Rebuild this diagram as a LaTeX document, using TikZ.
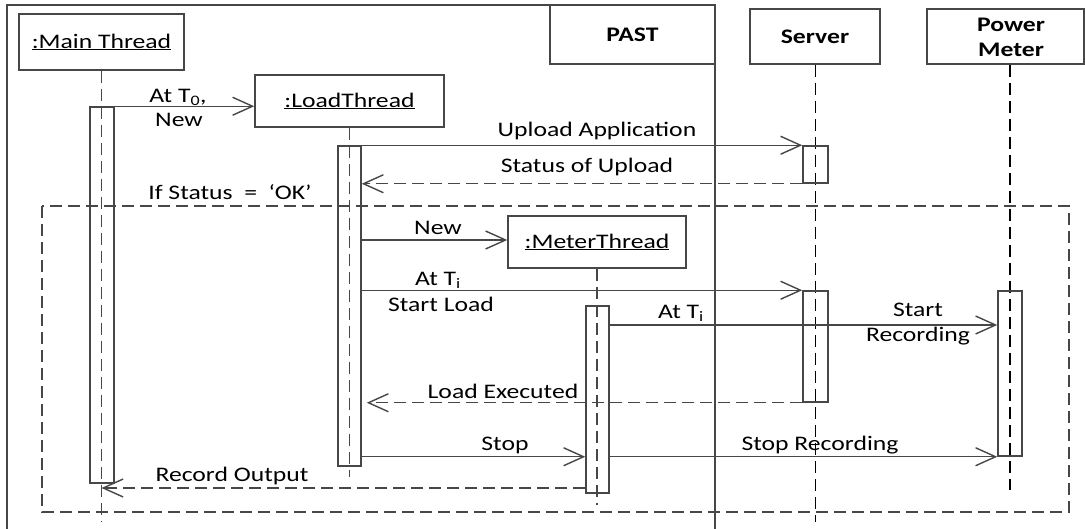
\documentclass[tikz,border=0pt]{standalone}
\usepackage{fontspec}
\setmainfont{Carlito}[FakeStretch=1.24]
\usetikzlibrary{arrows.meta,calc}
\definecolor{ln}{HTML}{474747}
\tikzset{
  every node/.style={font=\fontsize{20.7}{25}\selectfont, text=black},
  obj/.style={draw=ln, line width=1.5pt, inner sep=0pt, align=center},
  act/.style={draw=ln, line width=1.5pt, minimum width=24pt, inner sep=0pt},
  life/.style={line width=1.6pt, dash pattern=on 12pt off 6pt},
  msg/.style={draw=ln, line width=1.4pt, -{Straight Barb[length=20pt,width=18pt]}},
  ret/.style={msg, dash pattern=on 12pt off 6pt},
  frame/.style={draw=ln, line width=1.5pt},
  lbl/.style={inner sep=0pt, align=center},
}
\begin{document}
\begin{tikzpicture}[x=1pt,y=-1pt]
\useasboundingbox (0,0) rectangle (1085,529);

% PAST frame
\draw[frame] (7,529) -- (7,5) -- (715,5) -- (715,529);
\node[obj, minimum width=165pt, minimum height=59pt, font=\fontsize{20.7}{25}\selectfont\bfseries] (past) at (632.5,34.5) {PAST};

% lifeline heads
\node[obj, minimum width=165pt, minimum height=56pt] (main) at (101.5,42) {\underline{:Main Thread}};
\node[obj, minimum width=189pt, minimum height=52pt] (lt) at (349.5,101) {\underline{:LoadThread}};
\node[obj, minimum width=178pt, minimum height=52pt] (mt) at (597,242) {\underline{:MeterThread}};
\node[obj, minimum width=130pt, minimum height=55pt, font=\fontsize{20.7}{25}\selectfont\bfseries] (srv) at (815,36.5) {Server};
\node[obj, minimum width=157pt, minimum height=55pt] (pm) at (1005.5,36.5) {};
\node[lbl, font=\fontsize{20.7}{25}\selectfont\bfseries] (pmlabel) at (1011,37) {Power\\Meter};

% lifeline ends
\coordinate (mainEnd) at (101.5,522);
\coordinate (ltEnd) at (349.5,477);
\coordinate (mtEnd) at (597,505);
\coordinate (srvEnd) at (815.5,522);
\coordinate (pmEnd) at (1010,490);

% lifelines
\draw[life, draw=ln] (main.south) -- (mainEnd);
\draw[life, draw=ln] (lt.south) -- (ltEnd);
\draw[life, draw=ln] (mt.south) -- (mtEnd);
\draw[life, draw=black, line width=1.9pt] (srv.south -| srvEnd) -- (srvEnd);
\draw[life, draw=black, line width=1.9pt] (pm.south -| pmEnd) -- (pmEnd);

% activations
\node[act, minimum height=376pt] (mainAct) at (102,295) {};
\node[act, minimum width=23pt, minimum height=320pt] (ltAct) at (349.5,306) {};
\node[act, minimum width=25pt, minimum height=37pt] (srvAct1) at (815.5,164.5) {};
\node[act, minimum width=25pt, minimum height=111pt] (srvAct2) at (815.5,346.5) {};
\node[act, minimum width=23pt, minimum height=187pt] (mtAct) at (597.5,399.5) {};
\node[act, minimum height=165pt] (pmAct) at (1010,373.5) {};

% guard frame
\draw[frame, dash pattern=on 12pt off 6pt] (42,206) rectangle (1069,512);
\node[lbl] (guard) at (230,192) {If Status~~=~~‘OK’};

% messages
\draw[msg] (mainAct.north east) -- (lt.west |- mainAct.north east);
\node[lbl] (m1a) at (178,97) {At T\textsubscript{0},};
\node[lbl] (m1b) at (179,120) {New};

\draw[msg] (ltAct.north east) -- (srvAct1.north west);
\node[lbl] (m2) at (597,131) {Upload Application};

\draw[ret] (srvAct1.south west) -- (ltAct.east |- srvAct1.south west);
\node[lbl] (m3) at (587,167) {Status of Upload};

\draw[msg] (ltAct.east |- 0,240) -- (mt.west |- 0,240);
\node[lbl] (m4) at (438,228) {New};

\draw[msg] (ltAct.east |- srvAct2.north west) -- (srvAct2.north west);
\node[lbl] (m5a) at (438,280) {At T\textsubscript{i}};
\node[lbl] (m5b) at (441,304) {Start Load};

\draw[msg] (mtAct.east |- 0,325) -- (pmAct.west |- 0,325);
\node[lbl] (m6) at (681,313) {At T\textsubscript{i}};
\node[lbl] (m7) at (918,324) {Start\\Recording};

\draw[ret, shorten >=5pt] (srvAct2.south west) -- (ltAct.east |- srvAct2.south west);
\node[lbl] (m8) at (503,391) {Load Executed};

\draw[msg] (ltAct.east |- pmAct.south) -- (mtAct.west |- pmAct.south);
\node[lbl] (m9) at (505,445) {Stop};

\draw[msg] (mtAct.east |- pmAct.south) -- (pmAct.south west);
\node[lbl] (m10) at (820,445) {Stop Recording};

\draw[ret] (mtAct.west |- 0,488) -- (main.south |- 0,488);
\node[lbl] (m11) at (232,476) {Record Output};
\end{tikzpicture}
\end{document}
